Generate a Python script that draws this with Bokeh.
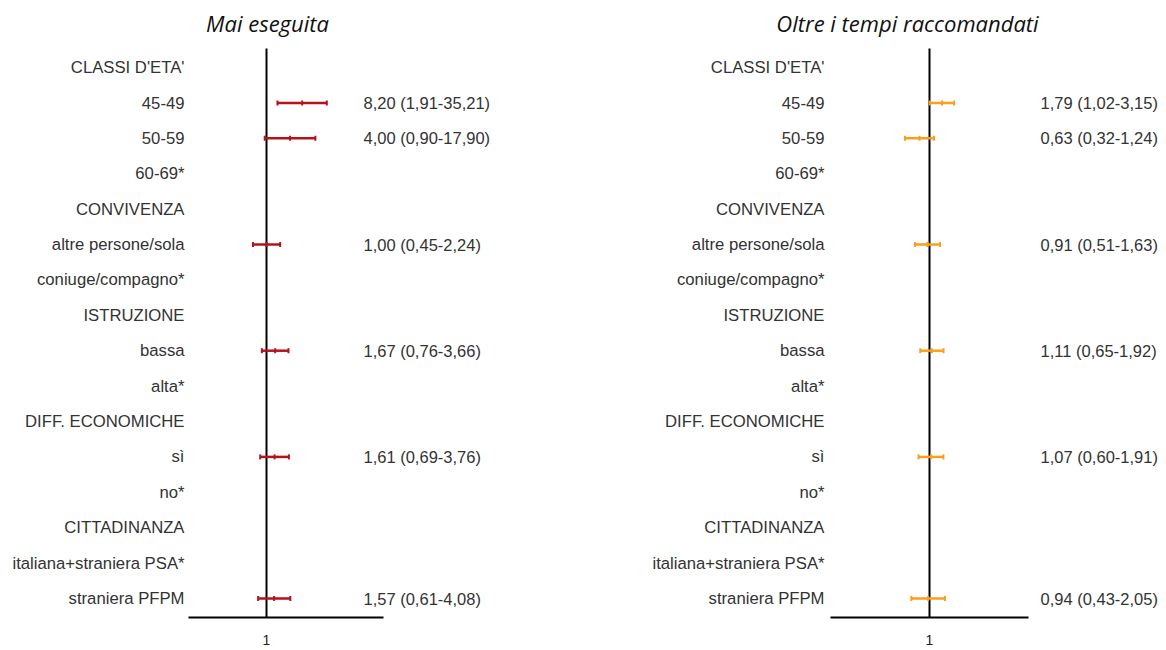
import math
from bokeh.plotting import figure
from bokeh.layouts import row
from bokeh.models import Range1d, FixedTicker, ColumnDataSource, LogAxis
from bokeh.core.properties import value
from bokeh.embed import file_html
from bokeh.resources import INLINE

labels = ["CLASSI D'ETA'", "45-49", "50-59", "60-69*", "CONVIVENZA",
          "altre persone/sola", "coniuge/compagno*", "ISTRUZIONE", "bassa",
          "alta*", "DIFF. ECONOMICHE", "sì", "no*", "CITTADINANZA",
          "italiana+straniera PSA*", "straniera PFPM"]

# rows with estimates (index into labels)
est_rows = [1, 2, 5, 8, 11, 15]

mai_or = [8.20, 4.00, 1.00, 1.67, 1.61, 1.57]
mai_lo = [1.91, 0.90, 0.45, 0.76, 0.69, 0.61]
mai_hi = [35.21, 17.90, 2.24, 3.66, 3.76, 4.08]

oltre_or = [1.79, 0.63, 0.91, 1.11, 1.07, 0.94]
oltre_lo = [1.02, 0.32, 0.51, 0.65, 0.60, 0.43]
oltre_hi = [3.15, 1.24, 1.63, 1.92, 1.91, 2.05]

titles = ["Mai eseguita", "Oltre i tempi raccomandati"]
tick_labels = {1: "1"}

TEXT_FONT = "Liberation Sans"
TEXT_COLOR = "#333333"


def fmt(v):
    return f"{v:.2f}".replace(".", ",")


def panel(title, ors, los, his, color, px_per_dec, one_px, axis_bounds,
          lab_off, val_off, title_off, fw, pad_left):
    fh = 609
    left_dec = -one_px / px_per_dec
    right_dec = (fw - one_px) / px_per_dec
    n = len(labels)
    row_px = 35.4
    top_row = -(67 - 8) / row_px
    bottom_row = top_row + fh / row_px
    p = figure(frame_width=fw, frame_height=fh,
               x_axis_type="log", x_axis_location=None, y_axis_location=None,
               x_range=Range1d(10 ** left_dec, 10 ** right_dec),
               y_range=Range1d(bottom_row, top_row),
               output_backend="svg", toolbar_location=None,
               min_border_left=pad_left, min_border_right=0, min_border_top=8,
               min_border_bottom=0)
    p.outline_line_color = None
    p.xgrid.visible = False
    p.ygrid.visible = False

    ax = LogAxis(ticker=FixedTicker(ticks=[1]), bounds=axis_bounds)
    ax.major_label_overrides = tick_labels
    ax.axis_line_width = 2
    ax.axis_line_color = "black"
    ax.major_tick_out = 0
    ax.major_tick_in = 0
    ax.minor_tick_out = 0
    ax.minor_tick_in = 0
    ax.major_label_standoff = 17
    ax.major_label_text_font = TEXT_FONT
    ax.major_label_text_font_size = "14px"
    ax.major_label_text_font_style = "normal"
    ax.major_label_text_color = "#222222"
    p.add_layout(ax, "below")

    # reference line at 1
    p.segment(x0=[1], y0=[-0.54], x1=[1], y1=[n - 1 + 0.54],
              line_color="black", line_width=2)

    ys = [float(r) for r in est_rows]
    src = ColumnDataSource(dict(y=ys, o=ors, lo=los, hi=his,
                                txt=[f"{fmt(o)} ({fmt(l)}-{fmt(h)})" for o, l, h in zip(ors, los, his)]))
    p.segment(x0="lo", y0="y", x1="hi", y1="y", source=src,
              line_color=color, line_width=2.5)
    for col in ("lo", "hi", "o"):
        p.scatter(x=col, y="y", source=src, marker="dash", angle=math.pi / 2,
                  size=5, line_color=color, line_width=2)

    lsrc = ColumnDataSource(dict(x=[1] * n, y=list(range(n)), t=labels))
    p.text(x="x", y="y", text="t", source=lsrc, x_offset=lab_off,
           text_align="right", text_baseline="middle",
           text_font=value(TEXT_FONT), text_font_size="16.7px",
           text_color=TEXT_COLOR)
    p.text(x=1, y="y", text="txt", source=src, x_offset=val_off,
           text_align="left", text_baseline="middle",
           text_font=value(TEXT_FONT), text_font_size="16.5px",
           text_color=TEXT_COLOR)
    p.text(x=[1], y=[0], text=[title], x_offset=title_off, y_offset=-45,
           text_align="center", text_baseline="middle",
           text_font=value("Open Sans"), text_font_style="italic",
           text_font_size="22px", text_color="#111111")
    return p


p1 = panel(titles[0], mai_or, mai_lo, mai_hi, "#B2141E", 39.0, 258,
           (0.01, 1000), -82, 97, 1, 575, 8)
p2 = panel(titles[1], oltre_or, oltre_lo, oltre_hi, "#FA9E1E", 49.5, 346,
           (0.01, 100), -105, 111, -22, 575, 0)

layout = row(p1, p2)
open("out.html", "w").write(file_html(layout, INLINE))
